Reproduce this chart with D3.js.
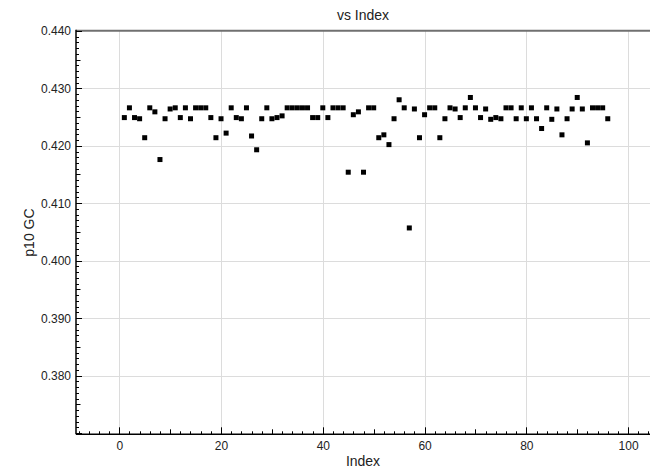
<!DOCTYPE html>
<html>
<head>
<meta charset="utf-8">
<script src="https://cdn.jsdelivr.net/npm/d3@7"></script>
<style>
  html, body { margin: 0; padding: 0; background: #fff; }
  svg { display: block; font-family: "Liberation Sans", Arial, Helvetica, sans-serif; }
</style>
</head>
<body>
<svg id="chart" width="650" height="470"></svg>
<script>
// ---- data ----
const indexValues = d3.range(1, 97);
const gcValues = [
  0.4249, 0.4266, 0.4249, 0.4247, 0.4214, 0.4266, 0.4259, 0.4176, 0.4247, 0.4264,
  0.4266, 0.4249, 0.4266, 0.4247, 0.4266, 0.4266, 0.4266, 0.4249, 0.4214, 0.4247,
  0.4222, 0.4266, 0.4249, 0.4247, 0.4266, 0.4217, 0.4193, 0.4247, 0.4266, 0.4247,
  0.4249, 0.4252, 0.4266, 0.4266, 0.4266, 0.4266, 0.4266, 0.4249, 0.4249, 0.4266,
  0.4249, 0.4266, 0.4266, 0.4266, 0.4154, 0.4254, 0.4259, 0.4154, 0.4266, 0.4266,
  0.4214, 0.4219, 0.4202, 0.4247, 0.4280, 0.4266, 0.4057, 0.4264, 0.4214, 0.4254,
  0.4266, 0.4266, 0.4214, 0.4247, 0.4266, 0.4264, 0.4249, 0.4266, 0.4284, 0.4266,
  0.4249, 0.4264, 0.4246, 0.4249, 0.4247, 0.4266, 0.4266, 0.4247, 0.4266, 0.4247,
  0.4266, 0.4247, 0.4230, 0.4266, 0.4246, 0.4264, 0.4219, 0.4247, 0.4264, 0.4284,
  0.4264, 0.4205, 0.4266, 0.4266, 0.4266, 0.4247
];
const xTickLabels = [0, 20, 40, 60, 80, 100];
const yTickLabels = [0.380, 0.390, 0.400, 0.410, 0.420, 0.430, 0.440];
const xDomain = [-8.5, 104.3];
const yDomain = [0.3698, 0.440];
const titleText = "vs Index";
const xLabelText = "Index";
const yLabelText = "p10 GC";

// ---- layout ----
const pLeft = 76, pRight = 650, pTop = 30.8, pBottom = 434.3;

const svg = d3.select("#chart");
const x = d3.scaleLinear().domain(xDomain).range([pLeft, pRight]);
const y = d3.scaleLinear().domain(yDomain).range([pBottom, pTop]);

// grid
const grid = svg.append("g");
grid.selectAll("line.vx").data(xTickLabels).join("line")
  .attr("x1", d => Math.round(x(d)) + 0.5).attr("x2", d => Math.round(x(d)) + 0.5)
  .attr("y1", pTop).attr("y2", pBottom)
  .attr("stroke", "#dcdcdc").attr("stroke-width", 1);
grid.selectAll("line.hy").data(yTickLabels.filter(v => v < 0.4395)).join("line")
  .attr("x1", pLeft).attr("x2", pRight)
  .attr("y1", d => Math.round(y(d)) + 0.5).attr("y2", d => Math.round(y(d)) + 0.5)
  .attr("stroke", "#dcdcdc").attr("stroke-width", 1);

// top border
svg.append("line")
  .attr("x1", pLeft).attr("x2", pRight)
  .attr("y1", pTop).attr("y2", pTop)
  .attr("stroke", "#707070").attr("stroke-width", 2);

// x axis minor/medium ticks (inward)
const xMinor = d3.range(-8, 105, 2);
const xAxisG = svg.append("g");
xAxisG.selectAll("line").data(xMinor).join("line")
  .attr("x1", d => Math.round(x(d)) + 0.5).attr("x2", d => Math.round(x(d)) + 0.5)
  .attr("y1", pBottom)
  .attr("y2", d => pBottom - (d % 20 === 0 ? 7 : (d % 10 === 0 ? 5 : 3)))
  .attr("stroke", "#000").attr("stroke-width", 1);
xAxisG.append("line")
  .attr("x1", pLeft).attr("x2", pRight)
  .attr("y1", pBottom).attr("y2", pBottom)
  .attr("stroke", "#000").attr("stroke-width", 1.5);

const xAxis = d3.axisBottom(x).tickValues(xTickLabels).tickSize(0).tickPadding(7)
  .tickFormat(d3.format("d"));
const xa = svg.append("g").attr("transform", `translate(0,${pBottom})`).call(xAxis);
xa.select(".domain").remove();
xa.selectAll("text").attr("font-size", 12).attr("fill", "#222")
  .attr("font-family", '"Liberation Sans", Arial, Helvetica, sans-serif');

// y axis ticks (inward)
const yMinor = d3.range(370, 441, 1).map(v => v / 1000);
const yAxisG = svg.append("g");
yAxisG.selectAll("line").data(yMinor).join("line")
  .attr("x1", pLeft)
  .attr("x2", d => {
    const m = Math.round(d * 1000);
    return pLeft + (m % 10 === 0 ? 6 : (m % 5 === 0 ? 4.5 : 3));
  })
  .attr("y1", d => Math.round(y(d)) + 0.5).attr("y2", d => Math.round(y(d)) + 0.5)
  .attr("stroke", "#000").attr("stroke-width", 1);
yAxisG.append("line")
  .attr("x1", pLeft).attr("x2", pLeft)
  .attr("y1", pTop - 1).attr("y2", pBottom)
  .attr("stroke", "#000").attr("stroke-width", 1.5);

const yAxis = d3.axisLeft(y).tickValues(yTickLabels).tickSize(0).tickPadding(5)
  .tickFormat(d3.format(".3f"));
const ya = svg.append("g").attr("transform", `translate(${pLeft},0)`).call(yAxis);
ya.select(".domain").remove();
ya.selectAll("text").attr("font-size", 12).attr("fill", "#222")
  .attr("font-family", '"Liberation Sans", Arial, Helvetica, sans-serif');

// points
const pts = indexValues.map((d, i) => ({ i: d, v: gcValues[i] }));
svg.append("g").selectAll("rect").data(pts).join("rect")
  .attr("x", d => x(d.i) - 2.5).attr("y", d => y(d.v) - 2.5)
  .attr("width", 5).attr("height", 5)
  .attr("fill", "#000");

// labels
svg.append("text").attr("x", (pLeft + pRight) / 2).attr("y", 20)
  .attr("text-anchor", "middle").attr("font-size", 14).attr("fill", "#222")
  .text(titleText);
svg.append("text").attr("x", (pLeft + pRight) / 2).attr("y", 466)
  .attr("text-anchor", "middle").attr("font-size", 14).attr("fill", "#222")
  .text(xLabelText);
svg.append("text")
  .attr("transform", `translate(34,${(pTop + pBottom) / 2}) rotate(-90)`)
  .attr("text-anchor", "middle").attr("font-size", 14).attr("fill", "#222")
  .text(yLabelText);
</script>
</body>
</html>
